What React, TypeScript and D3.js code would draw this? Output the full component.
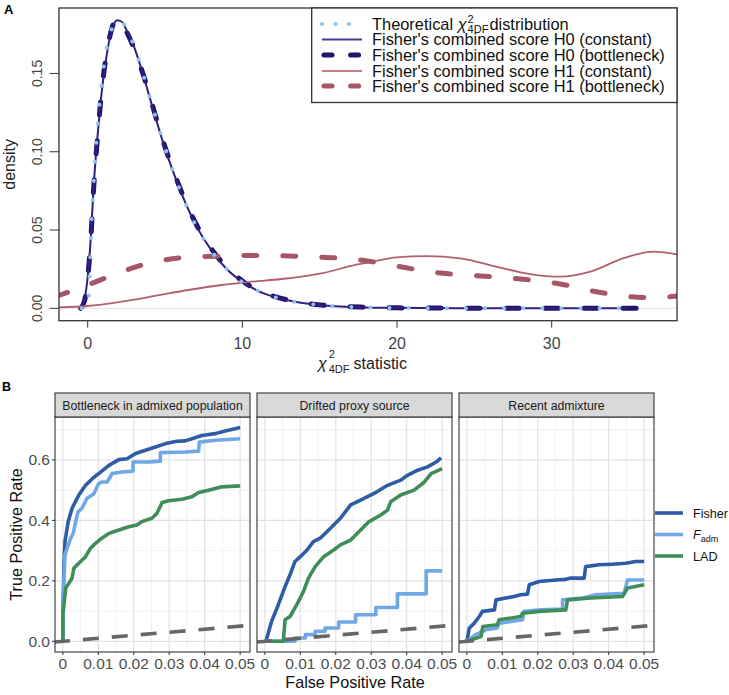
import React from 'react';
import * as d3 from 'd3';

const FONT = "'Liberation Sans', Arial, Helvetica, sans-serif";

// ---------- Panel A data ----------
const theoX = [-0.4, 0, 0.25, 0.5, 0.75, 1, 1.5, 2, 2.5, 3, 3.5, 4, 4.5, 5, 5.5, 6, 7, 8, 9, 10, 11, 12, 13, 14, 15, 16, 18, 20, 22, 25, 28, 31, 34.4];
const theoY = [0, 0, 0.0552, 0.0974, 0.1289, 0.1516, 0.1771, 0.1839, 0.1791, 0.1673, 0.1521, 0.1353, 0.1186, 0.1026, 0.0879, 0.0747, 0.0528, 0.0366, 0.025, 0.0168, 0.0112, 0.0074, 0.0049, 0.0032, 0.0021, 0.0013, 0.0006, 0.0002, 0.0001, 0, 0, 0, 0];

const h0ConstX = [-0.45, -0.2, 0, 0.2, 0.4, 0.6, 0.8, 1, 1.3, 1.6, 1.9, 2.2, 2.5, 3, 3.5, 4, 4.5, 5, 5.5, 6, 7, 8, 9, 10, 11, 12, 13, 14, 15, 16, 18, 20, 24, 28, 34.9];
const h0ConstY = [0, 0.006, 0.02, 0.045, 0.08, 0.106, 0.128, 0.146, 0.166, 0.179, 0.184, 0.183, 0.178, 0.167, 0.152, 0.135, 0.118, 0.102, 0.088, 0.075, 0.053, 0.037, 0.025, 0.017, 0.0112, 0.0075, 0.005, 0.0032, 0.0021, 0.0013, 0.0006, 0.0003, 0.0001, 0, 0];

const h0BottX = [-0.45, -0.2, 0, 0.2, 0.4, 0.6, 0.8, 1, 1.3, 1.6, 1.9, 2.2, 2.5, 3, 3.5, 4, 4.5, 5, 5.5, 6, 7, 8, 9, 10, 11, 12, 13, 14, 15, 16, 18, 20, 24, 28, 36.7];
const h0BottY = [0, 0.005, 0.019, 0.044, 0.079, 0.105, 0.128, 0.147, 0.167, 0.18, 0.185, 0.183, 0.177, 0.166, 0.152, 0.136, 0.119, 0.103, 0.089, 0.076, 0.054, 0.038, 0.026, 0.0175, 0.0115, 0.0078, 0.0052, 0.0034, 0.0022, 0.0014, 0.0007, 0.0003, 0.0001, 0, 0];

const h1ConstX = [-2.1, 0, 2.2, 4.35, 6.5, 8.66, 10, 13, 15.1, 17.3, 18.4, 19.96, 21.9, 24.1, 26.4, 28.6, 30.5, 32.5, 34.6, 36.6, 38.1];
const h1ConstY = [0.0006, 0.0015, 0.0043, 0.0079, 0.0117, 0.0149, 0.0164, 0.0192, 0.0223, 0.0277, 0.0298, 0.0326, 0.0334, 0.0319, 0.0266, 0.0219, 0.0202, 0.0234, 0.0319, 0.0362, 0.0345];

const h1BottX = [-2.1, 0, 2.2, 4.35, 6.5, 8.66, 10.8, 13, 15.1, 17.3, 18.4, 20.4, 22.5, 25.1, 27.7, 30.3, 32.9, 35.1, 36.6, 38.1];
const h1BottY = [0.0074, 0.0149, 0.0234, 0.0298, 0.0326, 0.0334, 0.0338, 0.0334, 0.0326, 0.0313, 0.0298, 0.0262, 0.0228, 0.0209, 0.019, 0.016, 0.0106, 0.0074, 0.0068, 0.0079];

const aXTicks = [0, 10, 20, 30];
const aYTicks = [0, 0.05, 0.1, 0.15];
const aYTickLabels = ['0.00', '0.05', '0.10', '0.15'];

const legendALabels = [
  "Fisher's combined score H0 (constant)",
  "Fisher's combined score H0 (bottleneck)",
  "Fisher's combined score H1 (constant)",
  "Fisher's combined score H1 (bottleneck)",
];

// ---------- Panel B data (FPR, TPR) ----------
const facets = ['Bottleneck in admixed population', 'Drifted proxy source', 'Recent admixture'];
const methods = ['Fisher', 'Fadm', 'LAD'];

const bnFisher = [[0, 0], [0, 0.088], [0.0003, 0.25], [0.0006, 0.33], [0.0015, 0.396], [0.0026, 0.44], [0.0045, 0.484], [0.0064, 0.516], [0.0083, 0.538], [0.0101, 0.555], [0.013, 0.582], [0.0158, 0.601], [0.0181, 0.604], [0.0205, 0.621], [0.0233, 0.632], [0.0261, 0.643], [0.029, 0.654], [0.0322, 0.662], [0.0345, 0.663], [0.0364, 0.67], [0.0392, 0.681], [0.043, 0.687], [0.0458, 0.696], [0.05, 0.707]];
const bnFadm = [[0, 0], [0, 0.088], [0.0003, 0.2], [0.0006, 0.286], [0.0012, 0.308], [0.0022, 0.341], [0.003, 0.36], [0.0036, 0.396], [0.0043, 0.429], [0.0054, 0.44], [0.0068, 0.473], [0.0087, 0.487], [0.0101, 0.522], [0.011, 0.527], [0.0125, 0.527], [0.0139, 0.555], [0.0167, 0.56], [0.0198, 0.563], [0.0198, 0.593], [0.0242, 0.593], [0.0275, 0.596], [0.0275, 0.624], [0.0345, 0.626], [0.0383, 0.629], [0.0385, 0.659], [0.043, 0.665], [0.05, 0.67]];
const bnLAD = [[0, 0], [0, 0.088], [0.0008, 0.176], [0.0017, 0.192], [0.0026, 0.209], [0.0031, 0.242], [0.0045, 0.258], [0.0064, 0.28], [0.0078, 0.308], [0.0092, 0.324], [0.011, 0.341], [0.013, 0.357], [0.0158, 0.368], [0.0186, 0.379], [0.0209, 0.385], [0.0223, 0.396], [0.0251, 0.407], [0.0265, 0.423], [0.028, 0.459], [0.0298, 0.465], [0.0336, 0.47], [0.0364, 0.478], [0.0383, 0.492], [0.0411, 0.5], [0.0448, 0.511], [0.05, 0.514]];

const dpFisher = [[0, 0], [0.0003, 0], [0.0019, 0.066], [0.0038, 0.121], [0.0057, 0.181], [0.0071, 0.22], [0.0085, 0.264], [0.01, 0.28], [0.0119, 0.302], [0.0137, 0.33], [0.0156, 0.341], [0.0185, 0.374], [0.0213, 0.407], [0.0242, 0.451], [0.027, 0.467], [0.0308, 0.489], [0.0346, 0.516], [0.0383, 0.533], [0.0402, 0.549], [0.0431, 0.566], [0.0459, 0.577], [0.0483, 0.593], [0.0497, 0.607]];
const dpFadm = [[0, 0], [0.0085, 0], [0.0085, 0.011], [0.0114, 0.011], [0.0114, 0.022], [0.0142, 0.022], [0.0142, 0.033], [0.017, 0.033], [0.017, 0.044], [0.0208, 0.044], [0.0208, 0.064], [0.0256, 0.064], [0.0256, 0.088], [0.0313, 0.088], [0.0313, 0.112], [0.0374, 0.112], [0.0374, 0.157], [0.0455, 0.157], [0.0455, 0.233], [0.05, 0.233]];
const dpLAD = [[0, 0], [0.0052, 0], [0.0057, 0.071], [0.0071, 0.082], [0.009, 0.121], [0.0109, 0.165], [0.0123, 0.209], [0.0142, 0.247], [0.0166, 0.28], [0.0194, 0.302], [0.0213, 0.319], [0.0242, 0.335], [0.027, 0.368], [0.0294, 0.396], [0.0327, 0.418], [0.0346, 0.434], [0.0355, 0.462], [0.0383, 0.484], [0.0421, 0.5], [0.045, 0.527], [0.0469, 0.555], [0.05, 0.571]];

const raFisher = [[0, 0], [0.0007, 0.044], [0.0021, 0.06], [0.0035, 0.082], [0.0044, 0.099], [0.0078, 0.104], [0.0082, 0.137], [0.011, 0.143], [0.0133, 0.148], [0.0152, 0.154], [0.0171, 0.156], [0.0176, 0.187], [0.0204, 0.198], [0.0251, 0.203], [0.0279, 0.205], [0.0293, 0.209], [0.0331, 0.209], [0.0335, 0.247], [0.0373, 0.253], [0.041, 0.255], [0.0448, 0.258], [0.0476, 0.264], [0.05, 0.264]];
const raFadm = [[0, 0], [0.0025, 0.022], [0.0054, 0.038], [0.0086, 0.044], [0.0091, 0.06], [0.0157, 0.071], [0.0161, 0.099], [0.0209, 0.104], [0.027, 0.107], [0.027, 0.137], [0.0326, 0.143], [0.0364, 0.154], [0.0444, 0.159], [0.0453, 0.203], [0.05, 0.203]];
const raLAD = [[0, 0], [0.004, 0.016], [0.0045, 0.049], [0.0086, 0.055], [0.0091, 0.071], [0.0152, 0.082], [0.0157, 0.093], [0.0204, 0.099], [0.0279, 0.104], [0.0284, 0.137], [0.0349, 0.143], [0.0439, 0.148], [0.0453, 0.176], [0.05, 0.187]];

const bXTicks = [0, 0.01, 0.02, 0.03, 0.04, 0.05];
const bXTickLabels = ['0', '0.01', '0.02', '0.03', '0.04', '0.05'];
const bYTicks = [0, 0.2, 0.4, 0.6];
const bYTickLabels = ['0.0', '0.2', '0.4', '0.6'];

const facetData = [
  [bnFisher, bnFadm, bnLAD],
  [dpFisher, dpFadm, dpLAD],
  [raFisher, raFadm, raLAD],
];

const methodColors = ['#2E5CA5', '#70A8E6', '#3F8D58'];

export default function App() {
  // ---- Panel A scales ----
  const aL = 59, aR = 677, aT = 8, aB = 320.7;
  const ax = d3.scaleLinear().domain([-1.855, 38.1]).range([aL, aR]);
  const ay = d3.scaleLinear().domain([-0.0079, 0.1918]).range([aB, aT]);
  const lineA = (xs: number[], ys: number[]) =>
    d3.line<number>().x((_, i) => ax(xs[i])).y((_, i) => ay(ys[i])).curve(d3.curveMonotoneX)(xs) || '';

  // ---- Panel B scales ----
  const pLefts = [55, 257, 459];
  const pW = 195, pT = 417, pB = 652, sT = 393;
  const by = d3.scaleLinear().domain([-0.0354, 0.742]).range([pB, pT]);
  const bxFor = (l: number) => d3.scaleLinear().domain([-0.0025, 0.0525]).range([l - 1, l - 1 + pW]);
  const minorX = [0.005, 0.015, 0.025, 0.035, 0.045];
  const minorY = [0.1, 0.3, 0.5, 0.7];

  const legYs = [24, 39.5, 55, 71, 86];
  const tickCol = '#444';

  return (
    <svg width={729} height={695} style={{ position: 'absolute', left: 0, top: 0, background: '#fff' }} fontFamily={FONT}>
      <defs>
        <clipPath id="clipA"><rect x={aL} y={aT} width={aR - aL} height={aB - aT} /></clipPath>
        {pLefts.map((l, i) => (
          <clipPath id={`clipB${i}`} key={i}><rect x={l} y={pT} width={pW} height={pB - pT} /></clipPath>
        ))}
      </defs>

      {/* ================= Panel A ================= */}
      <text x={4} y={14} fontSize={13} fontWeight="bold">A</text>
      <g clipPath="url(#clipA)">
        <line x1={aL} x2={aR} y1={ay(0)} y2={ay(0)} stroke="#e4e4e4" strokeWidth={1} />
        <path d={lineA(h0BottX, h0BottY)} fill="none" stroke="#24126E" strokeWidth={5} strokeDasharray="13 26" strokeLinecap="round" />
        <path d={lineA(h0ConstX, h0ConstY)} fill="none" stroke="#2E2180" strokeWidth={2} />
        <path d={lineA(h1ConstX, h1ConstY)} fill="none" stroke="#B2606F" strokeWidth={1.8} />
        <path d={lineA(h1BottX, h1BottY)} fill="none" stroke="#A65767" strokeWidth={5} strokeDasharray="13 26" strokeLinecap="round" />
        <path d={lineA(theoX, theoY)} fill="none" stroke="#8EC1EC" strokeWidth={4} strokeDasharray="0.1 19" strokeLinecap="round" />
      </g>
      <rect x={aL} y={aT} width={aR - aL} height={aB - aT} fill="none" stroke="#333" strokeWidth={1.3} />
      {aYTicks.map((t, i) => (
        <g key={i}>
          <line x1={aL - 9.5} x2={aL} y1={ay(t)} y2={ay(t)} stroke="#333" strokeWidth={1} />
          <text transform={`translate(42,${ay(t)}) rotate(-90)`} textAnchor="middle" fontSize={14} fill={tickCol}>{aYTickLabels[i]}</text>
        </g>
      ))}
      {aXTicks.map((t, i) => (
        <g key={i}>
          <line x1={ax(t)} x2={ax(t)} y1={aB} y2={aB + 7} stroke="#333" strokeWidth={1} />
          <text x={ax(t)} y={349} textAnchor="middle" fontSize={16} fill={tickCol}>{t}</text>
        </g>
      ))}
      <text transform={`translate(15,${(aT + aB) / 2}) rotate(-90)`} textAnchor="middle" fontSize={16} fill="#222">density</text>
      <text x={318} y={369} fontSize={16} fill="#222">
        <tspan fontStyle="italic">χ</tspan>
        <tspan fontSize={11} dx={2} dy={-11}>2</tspan>
        <tspan fontSize={11} dx={-6.1} dy={15}>4DF</tspan>
        <tspan dx={4} dy={-4}>statistic</tspan>
      </text>

      {/* Legend A */}
      <rect x={311.7} y={aT} width={aR - 311.7} height={102.5 - aT} fill="#fff" stroke="#333" strokeWidth={1.3} />
      <line x1={322} x2={362} y1={legYs[0]} y2={legYs[0]} stroke="#8EC1EC" strokeWidth={4} strokeDasharray="0.1 13.3" strokeLinecap="round" />
      <line x1={322} x2={362} y1={legYs[1]} y2={legYs[1]} stroke="#4A3F9C" strokeWidth={2} />
      <line x1={324} x2={362} y1={legYs[2]} y2={legYs[2]} stroke="#24126E" strokeWidth={5} strokeDasharray="8 18.6" strokeLinecap="round" />
      <line x1={322} x2={362} y1={legYs[3]} y2={legYs[3]} stroke="#C07E89" strokeWidth={2} />
      <line x1={324} x2={362} y1={legYs[4]} y2={legYs[4]} stroke="#A65767" strokeWidth={5} strokeDasharray="8 18.6" strokeLinecap="round" />
      <text x={372} y={legYs[0] + 5.8} fontSize={16.4} fill="#111">
        <tspan>Theoretical </tspan>
        <tspan fontStyle="italic">χ</tspan>
        <tspan fontSize={11} dx={1} dy={-7}>2</tspan>
        <tspan fontSize={11} dx={-6.1} dy={10}>4DF</tspan>
        <tspan dx={1} dy={-3}>distribution</tspan>
      </text>
      {legendALabels.map((s, i) => (
        <text key={i} x={372} y={legYs[i + 1] + 5.8} fontSize={16.4} fill="#111">{s}</text>
      ))}

      {/* ================= Panel B ================= */}
      <text x={2} y={391} fontSize={12.5} fontWeight="bold">B</text>
      {pLefts.map((l, fi) => {
        const bx = bxFor(l);
        const lineB = d3.line<number[]>().x(d => bx(d[0])).y(d => by(d[1]));
        return (
          <g key={fi}>
            <rect x={l} y={pT} width={pW} height={pB - pT} fill="#fff" />
            {minorX.map((t, i) => <line key={'mx' + i} x1={bx(t)} x2={bx(t)} y1={pT} y2={pB} stroke="#efefef" strokeWidth={0.9} />)}
            {minorY.map((t, i) => <line key={'my' + i} x1={l} x2={l + pW} y1={by(t)} y2={by(t)} stroke="#efefef" strokeWidth={0.9} />)}
            {bXTicks.map((t, i) => <line key={'gx' + i} x1={bx(t)} x2={bx(t)} y1={pT} y2={pB} stroke="#e2e2e2" strokeWidth={1.2} />)}
            {bYTicks.map((t, i) => <line key={'gy' + i} x1={l} x2={l + pW} y1={by(t)} y2={by(t)} stroke="#e2e2e2" strokeWidth={1.2} />)}
            <g clipPath={`url(#clipB${fi})`}>
              {facetData[fi].map((ser, mi) => (
                <path key={mi} d={lineB(ser) || ''} fill="none" stroke={methodColors[mi]} strokeWidth={3.6} strokeLinejoin="round" />
              ))}
              <line x1={bx(-0.0025)} y1={by(-0.0025)} x2={bx(0.0525)} y2={by(0.0525)} stroke="#666" strokeWidth={3.6} strokeDasharray="16 13" />
            </g>
            <rect x={l} y={pT} width={pW} height={pB - pT} fill="none" stroke="#333" strokeWidth={1.1} />
            <rect x={l} y={sT} width={pW} height={pT - sT} fill="#D9D9D9" stroke="#333" strokeWidth={1.1} />
            <text x={l + pW / 2} y={sT + 16.5} textAnchor="middle" fontSize={12.3} fill="#1a1a1a">{facets[fi]}</text>
            {bXTicks.map((t, i) => (
              <g key={'xt' + i}>
                <line x1={bx(t)} x2={bx(t)} y1={pB} y2={pB + 3} stroke="#333" strokeWidth={1} />
                <text x={bx(t)} y={669} textAnchor="middle" fontSize={15.5} fill="#4d4d4d">{bXTickLabels[i]}</text>
              </g>
            ))}
          </g>
        );
      })}
      {bYTicks.map((t, i) => (
        <g key={'yt' + i}>
          <line x1={pLefts[0] - 3} x2={pLefts[0]} y1={by(t)} y2={by(t)} stroke="#333" strokeWidth={1} />
          <text x={50} y={by(t) + 5.5} textAnchor="end" fontSize={15.5} fill="#4d4d4d">{bYTickLabels[i]}</text>
        </g>
      ))}
      <text transform={`translate(22,${(pT + pB) / 2}) rotate(-90)`} textAnchor="middle" fontSize={16.2} fill="#111">True Positive Rate</text>
      <text x={355} y={688} textAnchor="middle" fontSize={16.2} fill="#111">False Positive Rate</text>

      {/* Legend B */}
      {methods.map((m, i) => {
        const y = [513, 534.5, 556][i];
        return (
          <g key={m}>
            <line x1={655} x2={683} y1={y} y2={y} stroke={methodColors[i]} strokeWidth={3.6} />
            {m === 'Fadm' ? (
              <text x={693} y={y + 4.5} fontSize={12.6} fill="#111">
                <tspan fontStyle="italic">F</tspan>
                <tspan fontSize={9} dy={3}>adm</tspan>
              </text>
            ) : (
              <text x={693} y={y + 4.5} fontSize={12.6} fill="#111">{m}</text>
            )}
          </g>
        );
      })}
    </svg>
  );
}
